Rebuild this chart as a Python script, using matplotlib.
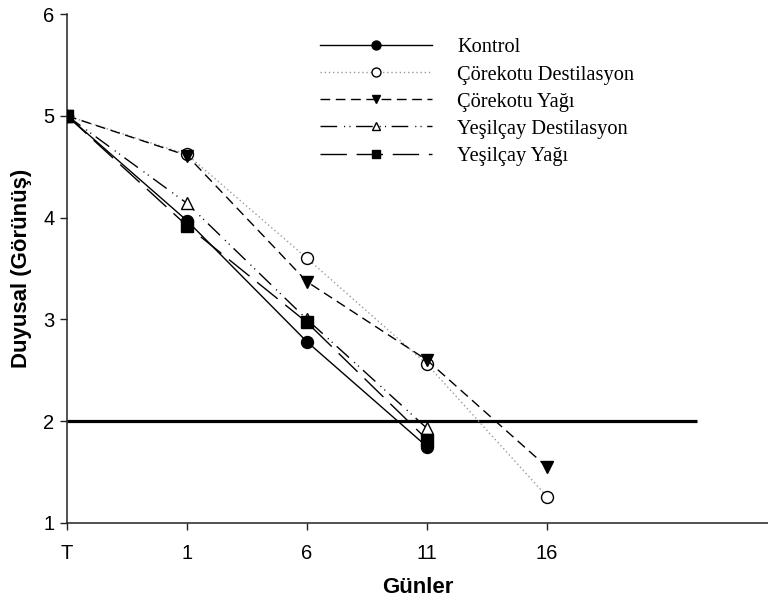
import matplotlib
matplotlib.use("Agg")
import matplotlib.pyplot as plt

plt.rcParams['font.family'] = ['Liberation Sans', 'DejaVu Sans']

# Storage days (sampling points) and sensory appearance scores
days = ["T", "1", "6", "11", "16"]

kontrol = [5.0, 3.97, 2.78, 1.75]
corekotu_dest = [5.0, 4.62, 3.60, 2.56, 1.26]
corekotu_yag = [5.0, 4.61, 3.37, 2.60, 1.55]
yesilcay_dest = [5.0, 4.14, 3.00, 1.93]
yesilcay_yag = [5.0, 3.92, 2.97, 1.82]

labels = ["Kontrol", "Çörekotu Destilasyon", "Çörekotu Yağı",
          "Yeşilçay Destilasyon", "Yeşilçay Yağı"]

limit_score = 2.0

fig = plt.figure(figsize=(7.68, 6.03), dpi=100)
ax = fig.add_axes([67 / 768, 1 - 523 / 603, 1 - 67 / 768, (523 - 14) / 603])

ms = 8.6
series = [
    (kontrol, dict(linestyle='-', marker='o', mfc='black', color='black', lw=1.0)),
    (corekotu_dest, dict(linestyle=(0, (1.0, 2.0)), marker='o', mfc='white', color='0.6',
                         mec='black', lw=1.0)),
    (corekotu_yag, dict(linestyle=(0, (7, 4)), marker='v', mfc='black', color='black', lw=1.0)),
    (yesilcay_dest, dict(linestyle=(0, (12, 5, 0.8, 3, 0.8, 4)), marker='^', mfc='white',
                         color='black', mec='black', lw=1.0)),
    (yesilcay_yag, dict(linestyle=(0, (19, 7)), marker='s', mfc='black', color='black', lw=1.0)),
]

handles = []
for (vals, style), lab in zip(series, labels):
    x = list(range(len(vals)))
    line, = ax.plot(x, vals, ms=ms, mew=1.0, label=lab, zorder=3, **style)
    handles.append(line)

ax.hlines(limit_score, 0, 5.25, colors='black', lw=2.3, zorder=2)

ax.set_xlim(0, (768 - 67) / 120)
ax.set_ylim(1, 6)
ax.set_xticks(range(len(days)))
ax.set_xticklabels(days)
ax.set_yticks([1, 2, 3, 4, 5, 6])

for s in ['top', 'right']:
    ax.spines[s].set_visible(False)
for s in ['left', 'bottom']:
    ax.spines[s].set_linewidth(1.1)
    ax.spines[s].set_color('#222222')

ax.tick_params(axis='both', direction='out', length=5, width=1.0, labelsize=14.5,
               colors='#222222', labelcolor='black')
ax.tick_params(axis='x', pad=10)
ax.tick_params(axis='y', pad=4)

ax.set_xlabel("Günler", fontsize=16, fontweight='bold', labelpad=10)
ax.set_ylabel("Duyusal (Görünüş)", fontsize=16, fontweight='bold', labelpad=8)

leg = ax.legend(handles=handles, loc='upper left',
                bbox_to_anchor=(312 / 768, 1 - 30 / 603), bbox_transform=fig.transFigure,
                frameon=False, prop={'family': 'Liberation Serif', 'size': 14.7},
                handlelength=5.5, handletextpad=1.2, labelspacing=0.38,
                markerscale=0.75, borderaxespad=0)

fig.savefig("out.png", dpi=100)
